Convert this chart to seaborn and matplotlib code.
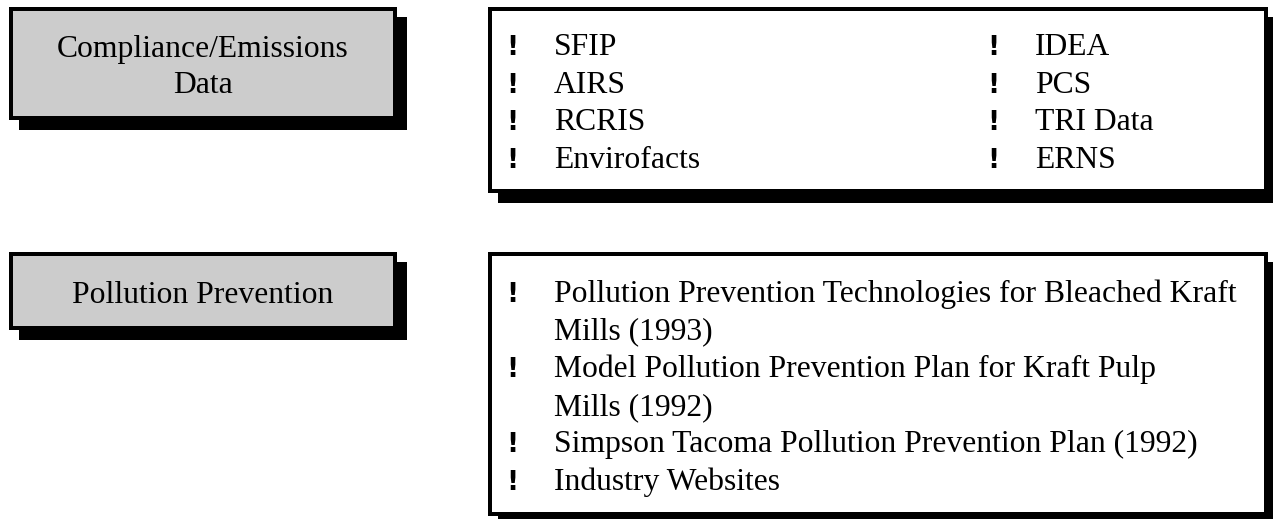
import matplotlib
matplotlib.use("Agg")
import matplotlib.pyplot as plt
import seaborn as sns
from matplotlib.patches import Rectangle

# Texte der Kästen
headers = ["Compliance/Emissions\nData", "Pollution Prevention"]
comp_left = ["SFIP", "AIRS", "RCRIS", "Envirofacts"]
comp_right = ["IDEA", "PCS", "TRI Data", "ERNS"]
# jeder Punkt als Liste von Zeilen (Umbruch wie im Original)
p2_items = [
    ["Pollution Prevention Technologies for Bleached Kraft", "Mills (1993)"],
    ["Model Pollution Prevention Plan for Kraft Pulp", "Mills (1992)"],
    ["Simpson Tacoma Pollution Prevention Plan (1992)"],
    ["Industry Websites"],
]

W, H = 1273, 519
BORDER = 4
SHADOW = 10
LINE = 37.6
FS = 22.8
BULLET_FS = 19

sns.set_theme(style="white")
plt.rcParams['font.family'] = ['Liberation Serif', 'DejaVu Serif']
plt.rcParams['text.color'] = 'black'

fig = plt.figure(figsize=(W / 100, H / 100), dpi=100)
ax = fig.add_axes([0, 0, 1, 1])
ax.set_xlim(0, W)
ax.set_ylim(H, 0)
ax.axis("off")


def box(x0, y0, x1, y1, fill):
    w, h = x1 - x0, y1 - y0
    ax.add_patch(Rectangle((x0 + SHADOW, y0 + SHADOW), w, h, color="black", lw=0))
    ax.add_patch(Rectangle((x0, y0), w, h, color="black", lw=0))
    ax.add_patch(Rectangle((x0 + BORDER, y0 + BORDER), w - 2 * BORDER, h - 2 * BORDER,
                           color=fill, lw=0))


def bullet(x, y):
    ax.text(x, y, "!", fontsize=BULLET_FS, fontweight="bold", family="DejaVu Sans",
            ha="center", va="baseline", color="black")


# linke graue Kästen
box(9, 7, 397, 120, "#cccccc")
box(9, 252, 397, 330, "#cccccc")
ax.text(203, 57, headers[0].split("\n")[0], fontsize=FS, ha="center", va="baseline", color="black")
ax.text(203, 57 + 36, headers[0].split("\n")[1], fontsize=FS, ha="center", va="baseline", color="black")
ax.text(203, 303, headers[1], fontsize=FS, ha="center", va="baseline", color="black")

# rechte Listen
box(488, 7, 1268, 193, "white")
box(488, 252, 1268, 516, "white")

for i, (a, b) in enumerate(zip(comp_left, comp_right)):
    y = 55 + i * LINE
    bullet(512, y)
    ax.text(554, y, a, fontsize=FS, va="baseline", color="black")
    bullet(993, y)
    ax.text(1035, y, b, fontsize=FS, va="baseline", color="black")

y = 302
for item in p2_items:
    bullet(512, y)
    for line in item:
        ax.text(554, y, line, fontsize=FS, va="baseline", color="black")
        y += LINE

fig.savefig("out.png", dpi=100)
